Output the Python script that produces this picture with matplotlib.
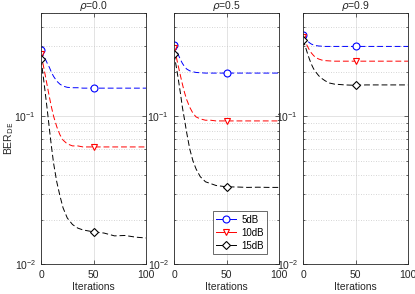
import matplotlib.pyplot as plt
from matplotlib.lines import Line2D
from matplotlib.ticker import LogLocator, NullFormatter

plt.rcParams['font.family'] = ['Liberation Sans', 'DejaVu Sans']

# iteration grid shared by all curves
iters = [0, 2, 4, 6, 8, 10, 12, 15, 18, 21, 25, 30, 35, 40, 50, 60, 70, 80, 90, 100]

rhos = ['0.0', '0.5', '0.9']
snr_labels = ['5dB', '10dB', '15dB']

# BER_DE values
ber_r00_5 = [0.279, 0.262, 0.245, 0.228, 0.214, 0.198, 0.186, 0.173, 0.165, 0.160, 0.157, 0.156, 0.156, 0.155, 0.155, 0.155, 0.155, 0.155, 0.155, 0.155]
ber_r00_10 = [0.262, 0.225, 0.190, 0.160, 0.135, 0.115, 0.100, 0.085, 0.075, 0.069, 0.065, 0.063, 0.063, 0.062, 0.062, 0.062, 0.062, 0.062, 0.062, 0.062]
ber_r00_15 = [0.243, 0.190, 0.145, 0.110, 0.082, 0.062, 0.048, 0.036, 0.029, 0.024, 0.0205, 0.0185, 0.0175, 0.017, 0.0165, 0.0162, 0.0155, 0.0156, 0.0152, 0.015]

ber_r05_5 = [0.305, 0.285, 0.262, 0.243, 0.228, 0.217, 0.209, 0.203, 0.200, 0.198, 0.197, 0.196, 0.196, 0.196, 0.196, 0.196, 0.196, 0.196, 0.196, 0.196]
ber_r05_10 = [0.288, 0.255, 0.220, 0.190, 0.165, 0.145, 0.130, 0.115, 0.105, 0.099, 0.096, 0.094, 0.094, 0.093, 0.093, 0.093, 0.093, 0.093, 0.093, 0.093]
ber_r05_15 = [0.265, 0.220, 0.180, 0.145, 0.115, 0.095, 0.078, 0.060, 0.050, 0.044, 0.039, 0.036, 0.035, 0.034, 0.0333, 0.0332, 0.033, 0.0331, 0.033, 0.033]

ber_r09_5 = [0.356, 0.338, 0.325, 0.315, 0.308, 0.304, 0.301, 0.299, 0.298, 0.297, 0.297, 0.297, 0.297, 0.297, 0.297, 0.297, 0.297, 0.297, 0.297, 0.297]
ber_r09_10 = [0.346, 0.320, 0.300, 0.282, 0.268, 0.258, 0.250, 0.244, 0.240, 0.238, 0.237, 0.236, 0.236, 0.236, 0.236, 0.236, 0.236, 0.236, 0.236, 0.236]
ber_r09_15 = [0.330, 0.300, 0.270, 0.245, 0.225, 0.210, 0.200, 0.188, 0.180, 0.174, 0.168, 0.165, 0.164, 0.163, 0.162, 0.163, 0.163, 0.163, 0.163, 0.163]

panels = [
    [ber_r00_5, ber_r00_10, ber_r00_15],
    [ber_r05_5, ber_r05_10, ber_r05_15],
    [ber_r09_5, ber_r09_10, ber_r09_15],
]

colors = ['#0000ff', '#ff0000', '#000000']
markers = ['o', 'v', 'D']
msizes = [5, 5, 4.5]
mark_idx = [0, iters.index(50)]

fig = plt.figure(figsize=(4.15, 2.94), dpi=100)
lefts = [41, 174, 303]
axes = []
for i, lx in enumerate(lefts):
    ax = fig.add_axes([lx / 415, 30 / 294, 105 / 415, 251 / 294])
    axes.append(ax)
    for s in range(3):
        ax.semilogy(iters, panels[i][s], color=colors[s], lw=0.7,
                    linestyle=(0, (6, 3)), marker=markers[s], ms=msizes[s],
                    mfc='white', mec=colors[s], mew=0.8, markevery=mark_idx)
    ax.set_xlim(0, 100)
    ax.set_ylim(0.01, 0.5)
    ax.set_xticks([0, 50, 100])
    ax.yaxis.set_major_locator(LogLocator(base=10, numticks=5))
    ax.yaxis.set_minor_locator(LogLocator(base=10, subs=range(2, 10), numticks=10))
    ax.yaxis.set_minor_formatter(NullFormatter())
    ax.grid(True, which='major', color='#e3e3e3', lw=0.7, ls='-')
    ax.grid(True, which='minor', axis='y', color='#c8c8c8', lw=0.6, ls=(0, (1, 2)))
    ax.set_axisbelow(True)
    ax.tick_params(which='both', direction='in', top=True, right=True,
                   labelsize=7.5, colors='#262626', width=0.5)
    ax.tick_params(which='major', length=3)
    ax.tick_params(axis='x', pad=4)
    ax.tick_params(which='minor', length=1.5)
    for sp in ax.spines.values():
        sp.set_linewidth(0.6)
        sp.set_color('#262626')
    ax.set_xlabel('Iterations', fontsize=7.5, color='#262626', labelpad=2)
    ax.set_title(r'$\rho$=' + rhos[i], fontsize=7.5, color='#262626', pad=2)

axes[0].set_ylabel(r'BER$_{\mathrm{DE}}$', fontsize=7.5, color='#262626', labelpad=-1)

handles = [Line2D([], [], color=colors[s], lw=0.7, marker=markers[s], ms=msizes[s],
                  mfc='white', mec=colors[s], mew=0.8) for s in range(3)]
leg = axes[1].legend(handles, snr_labels, loc='lower right', fontsize=7,
                     frameon=True, fancybox=False, edgecolor='#262626',
                     handlelength=2.0, borderpad=0.35, labelspacing=0.3,
                     handletextpad=0.6, borderaxespad=0,
                     bbox_to_anchor=(0.89, 0.04))
leg.get_frame().set_linewidth(0.6)

fig.savefig('out.png', dpi=100)
